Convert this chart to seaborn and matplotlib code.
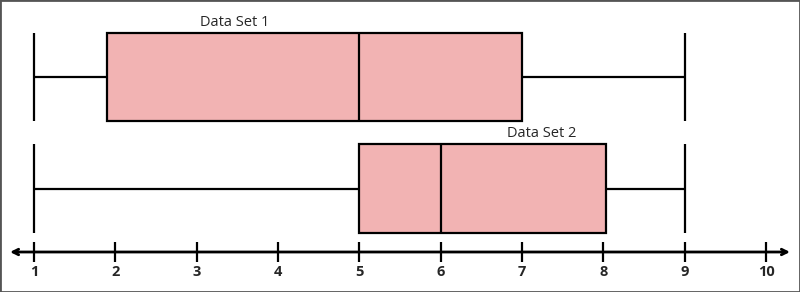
import matplotlib
matplotlib.use("Agg")
import matplotlib.pyplot as plt
import seaborn as sns
import pandas as pd
from matplotlib.patches import Rectangle

# Five-number summaries
set1_values = [1.0, 1.9, 5.0, 7.0, 9.0]
set2_values = [1.0, 5.0, 6.0, 8.03, 9.0]
set_names = ["Data Set 1", "Data Set 2"]
tick_values = [1, 2, 3, 4, 5, 6, 7, 8, 9, 10]
box_color = "#F2B3B3"

df = pd.DataFrame({
    "value": set1_values + set2_values,
    "set": [set_names[0]] * len(set1_values) + [set_names[1]] * len(set2_values),
})

sns.set_style("white")
plt.rcParams["font.family"] = ["Open Sans", "DejaVu Sans"]

fig = plt.figure(figsize=(8.0, 2.92), dpi=100)
ax = fig.add_axes([0, 0, 1, 1])

box_w = 0.79
sns.boxplot(data=df, x="value", y="set", order=set_names, orient="h",
            whis=(0, 100), width=box_w, color=box_color, saturation=1,
            linecolor="black", linewidth=1.6, showfliers=False, ax=ax)

# Make the caps span the full box height
for ln in ax.lines:
    xd = list(ln.get_xdata())
    yd = list(ln.get_ydata())
    if len(xd) == 2 and xd[0] == xd[1] and abs(yd[1] - yd[0]) < 0.9 * box_w:
        c = (yd[0] + yd[1]) / 2
        ln.set_ydata([c - box_w / 2, c + box_w / 2])
    ln.set_solid_capstyle("butt")

ppu = 732 / 9.0
ax.set_xlim(1 - 34 / ppu, 10 + 34 / ppu)
ypu = 111.5
ax.set_ylim((292 - 77) / ypu, -77 / ypu)

axis_y = (252 - 77) / ypu
for s in ["top", "left", "right"]:
    ax.spines[s].set_visible(False)
ax.spines["bottom"].set_position(("data", axis_y))
ax.spines["bottom"].set_visible(False)
ax.annotate("", xy=(1 - 24 / ppu, axis_y), xytext=(10 + 24 / ppu, axis_y),
            arrowprops=dict(arrowstyle="<->", lw=2, color="black",
                            shrinkA=0, shrinkB=0, mutation_scale=10))
ax.set_xticks(tick_values)
ax.set_xticklabels([str(t) for t in tick_values], fontweight="bold", fontsize=10.5)
ax.tick_params(axis="x", direction="inout", length=14, width=1.6, color="black",
               pad=2, bottom=True)
ax.set_yticks([])
ax.set_xlabel("")
ax.set_ylabel("")

# Set labels above boxes
ax.text(235 / ppu + 1 - 34 / ppu, 0 - box_w / 2 - 0.03, set_names[0],
        ha="center", va="bottom", fontsize=10.5)
ax.text(542 / ppu + 1 - 34 / ppu, 1 - box_w / 2 - 0.03, set_names[1],
        ha="center", va="bottom", fontsize=10.5)

fig.patches.append(Rectangle((0, 0), 1, 1, transform=fig.transFigure,
                             fill=False, edgecolor="#555555", lw=2))

fig.savefig("out.png", dpi=100)
